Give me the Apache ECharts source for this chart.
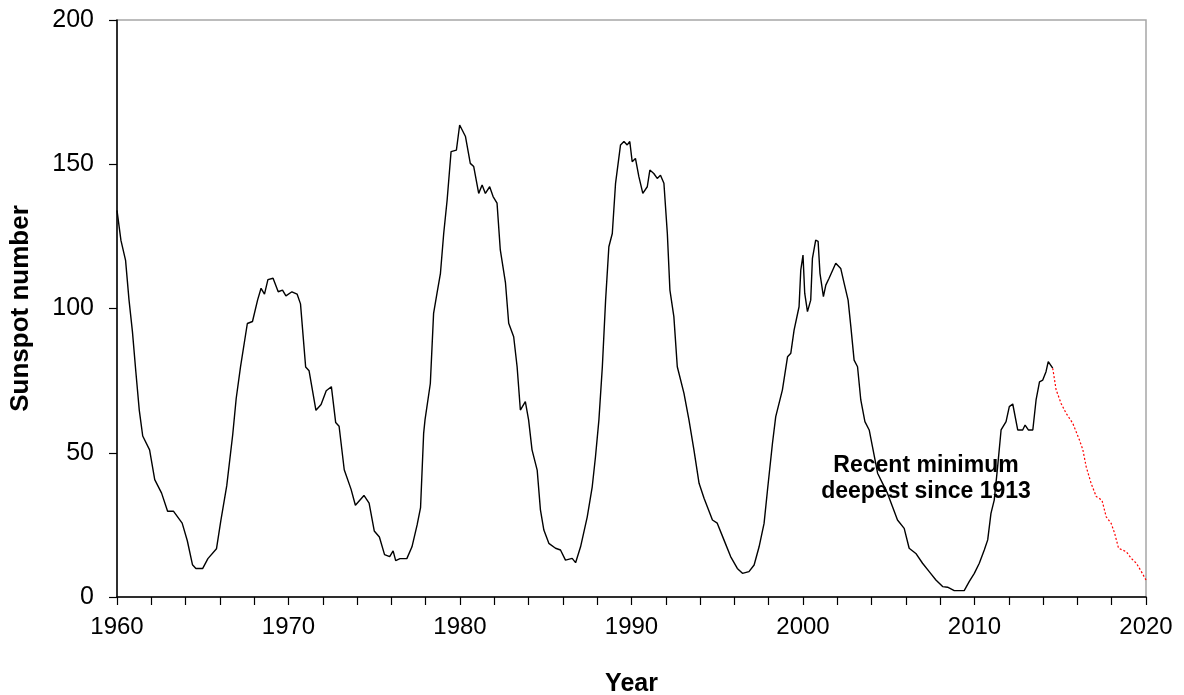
<!DOCTYPE html>
<html>
<head>
<meta charset="utf-8">
<script src="https://cdn.jsdelivr.net/npm/echarts@6/dist/echarts.min.js"></script>
<style>
  html, body { margin: 0; padding: 0; background: #fff; }
  #chart { width: 1184px; height: 695px; }
</style>
</head>
<body>
<div id="chart"></div>
<script>
// observed smoothed sunspot number (black line)
const obsYears = [
  1960.0, 1960.23, 1960.5, 1960.7, 1960.9, 1961.1, 1961.3, 1961.5, 1961.9, 1962.2,
  1962.6, 1962.95, 1963.3, 1963.8, 1964.1, 1964.4, 1964.6, 1965.0, 1965.3, 1965.8,
  1966.05, 1966.4, 1966.75, 1966.95, 1967.2, 1967.6, 1967.9, 1968.2, 1968.4, 1968.6,
  1968.8, 1969.1, 1969.4, 1969.65, 1969.85, 1970.2, 1970.5, 1970.7, 1971.0, 1971.2,
  1971.6, 1971.9, 1972.2, 1972.5, 1972.75, 1972.95, 1973.25, 1973.65, 1973.9, 1974.4,
  1974.7, 1975.0, 1975.3, 1975.6, 1975.9, 1976.1, 1976.25, 1976.5, 1976.9, 1977.2,
  1977.5, 1977.7, 1977.88, 1977.96, 1978.27, 1978.46, 1978.66, 1978.86, 1979.05, 1979.25,
  1979.48, 1979.79, 1979.98, 1980.32, 1980.6, 1980.8, 1981.09, 1981.29, 1981.48, 1981.73,
  1981.93, 1982.16, 1982.35, 1982.65, 1982.84, 1983.13, 1983.33, 1983.52, 1983.81, 1984.0,
  1984.2, 1984.5, 1984.69, 1984.89, 1985.18, 1985.57, 1985.86, 1986.15, 1986.54, 1986.74,
  1987.03, 1987.42, 1987.71, 1987.9, 1988.1, 1988.3, 1988.49, 1988.68, 1988.88, 1989.07,
  1989.36, 1989.56, 1989.75, 1989.9, 1990.04, 1990.23, 1990.43, 1990.66, 1990.92, 1991.07,
  1991.3, 1991.5, 1991.69, 1991.89, 1992.09, 1992.24, 1992.47, 1992.67, 1993.06, 1993.35,
  1993.64, 1993.94, 1994.23, 1994.72, 1995.0, 1995.39, 1995.78, 1996.17, 1996.47, 1996.85,
  1997.15, 1997.44, 1997.73, 1997.93, 1998.22, 1998.41, 1998.8, 1999.1, 1999.29, 1999.48,
  1999.77, 1999.87, 2000.0, 2000.1, 2000.26, 2000.45, 2000.55, 2000.74, 2000.88, 2000.99,
  2001.19, 2001.33, 2001.52, 2001.91, 2002.2, 2002.4, 2002.63, 2002.79, 2002.98, 2003.18,
  2003.37, 2003.61, 2003.86, 2004.05, 2004.35, 2004.64, 2004.93, 2005.22, 2005.51, 2005.9,
  2006.19, 2006.58, 2006.97, 2007.36, 2007.75, 2008.14, 2008.43, 2008.82, 2009.4, 2009.69,
  2009.99, 2010.28, 2010.57, 2010.77, 2010.96, 2011.15, 2011.35, 2011.55, 2011.84, 2012.03,
  2012.23, 2012.52, 2012.81, 2012.95, 2013.14, 2013.4, 2013.59, 2013.79, 2013.98, 2014.17,
  2014.3, 2014.56
];
const obsValues = [
  134, 123.6, 116.7, 103, 92, 78, 64.7, 55.8, 51, 40.7,
  36, 29.7, 29.7, 25.6, 19.5, 11.2, 9.9, 9.9, 13.3, 16.7,
  26.3, 38.6, 56.4, 68.8, 79.7, 94.8, 95.5, 103, 107, 105,
  110, 110.5, 105.8, 106.4, 104.4, 105.8, 105, 101.6, 79.7, 78.4,
  64.7, 66.7, 71.5, 72.9, 60.5, 59.2, 44.1, 37.3, 31.8, 35.2,
  32.5, 22.9, 20.8, 14.7, 14, 16, 12.6, 13.3, 13.3, 17.4,
  25, 31, 56.7, 61.4, 74, 98.3, 105.3, 112.2, 126, 137.6,
  154.4, 154.9, 163.6, 159.6, 150.3, 149.2, 139.9, 142.8, 139.9, 142.2,
  138.8, 136.5, 120.3, 109, 94.9, 90.2, 79.8, 64.8, 67.7, 61.4,
  51, 44, 30.2, 23.2, 18.6, 16.9, 16.3, 12.8, 13.4, 11.9,
  17.4, 27.8, 38.2, 48.6, 61.4, 79.8, 102.9, 121.4, 126, 143.4,
  156.7, 157.9, 156.7, 157.9, 150.9, 152, 145.7, 139.9, 142.2, 148,
  146.8, 145.1, 146.2, 143.4, 126, 106.4, 97.2, 79.8, 70.6, 61.4,
  51, 39.4, 34.2, 26.7, 25.6, 19.8, 14, 9.9, 8.2, 8.8,
  11.1, 17.4, 25.5, 37.1, 53.3, 62.5, 71.8, 83.3, 84.5, 92.5,
  100.6, 113.3, 118.5, 105.3, 98.9, 102.9, 117.4, 123.7, 123.3, 112.2,
  104.1, 108.1, 110.5, 115.7, 113.9, 108.7, 102.9, 93.7, 82.1, 79.8,
  68.3, 60.8, 57.9, 52.1, 42.9, 39.4, 35.9, 31.3, 26.7, 23.8,
  16.9, 15.1, 11.7, 8.8, 5.9, 3.6, 3.4, 2.2, 2.2, 5.3,
  8.2, 11.7, 16.3, 19.8, 29, 33.6, 45.2, 57.9, 60.8, 66,
  66.9, 57.9, 57.9, 59.6, 57.9, 57.9, 68.3, 74.6, 75.2, 78.1,
  81.6, 79.3
];

// predicted values (red dotted line)
const predYears = [
  2014.56, 2014.76, 2015.05, 2015.34, 2015.73, 2016.12, 2016.32, 2016.51, 2016.8, 2017.1,
  2017.43, 2017.68, 2017.97, 2018.17, 2018.4, 2018.85, 2019.14, 2019.44, 2019.73, 2020.0
];
const predValues = [
  79.3, 71.8, 67.1, 63.7, 60.2, 54.4, 51, 45.2, 39.4, 34.8,
  33.6, 27.8, 25.5, 22.1, 16.9, 15.7, 13.4, 11.7, 8.8, 5.9
];

const yearLabels = [1960, 1970, 1980, 1990, 2000, 2010, 2020];
const noteLines = ['Recent minimum', 'deepest since 1913'];

const pairs = (xs, ys) => xs.map((x, i) => [x, ys[i]]);

const chart = echarts.init(document.getElementById('chart'));
const font = '"Liberation Sans", Arial, sans-serif';

chart.setOption({
  animation: false,
  grid: {
    left: 117,
    right: 38,
    top: 20,
    bottom: 98,
    outerBoundsMode: 'none',
    containLabel: false,
    show: true,
    borderColor: '#a6a6a6',
    borderWidth: 1.5,
  },
  xAxis: {
    type: 'value',
    min: 1960,
    max: 2020,
    interval: 2,
    name: 'Year',
    nameLocation: 'middle',
    nameGap: 75,
    nameTextStyle: { fontFamily: font, fontSize: 25, fontWeight: 'bold', color: '#000' },
    axisLine: { onZero: false, lineStyle: { color: '#000', width: 1.5 } },
    axisTick: { show: true, inside: false, length: 8, lineStyle: { color: '#000', width: 1.2 } },
    axisLabel: {
      fontFamily: font,
      fontSize: 24,
      color: '#000',
      margin: 18,
      formatter: (v) => (yearLabels.indexOf(v) >= 0 ? String(v) : ''),
    },
    splitLine: { show: false },
  },
  yAxis: {
    type: 'value',
    min: 0,
    max: 200,
    interval: 50,
    name: 'Sunspot number',
    nameLocation: 'middle',
    nameGap: 83,
    nameTextStyle: { fontFamily: font, fontSize: 26, fontWeight: 'bold', color: '#000' },
    axisLine: { show: true, lineStyle: { color: '#000', width: 1.5 } },
    axisTick: { show: true, inside: false, length: 8, lineStyle: { color: '#000', width: 1.2 } },
    axisLabel: { fontFamily: font, fontSize: 25, color: '#000', margin: 23 },
    splitLine: { show: false },
  },
  series: [
    {
      name: 'Observed',
      type: 'line',
      data: pairs(obsYears, obsValues),
      showSymbol: false,
      lineStyle: { color: '#000', width: 1.4 },
      z: 3,
    },
    {
      name: 'Predicted',
      type: 'line',
      data: pairs(predYears, predValues),
      showSymbol: false,
      lineStyle: { color: '#ff0000', width: 1.2, type: [2, 2] },
      z: 3,
    },
  ],
  graphic: [
    {
      type: 'text',
      x: 926,
      y: 479,
      z: 10,
      style: {
        text: noteLines.join('\n'),
        font: 'bold 23px "Liberation Sans", Arial, sans-serif',
        fill: '#000',
        align: 'center',
        verticalAlign: 'middle',
        lineHeight: 26,
      },
    },
  ],
});
</script>
</body>
</html>
